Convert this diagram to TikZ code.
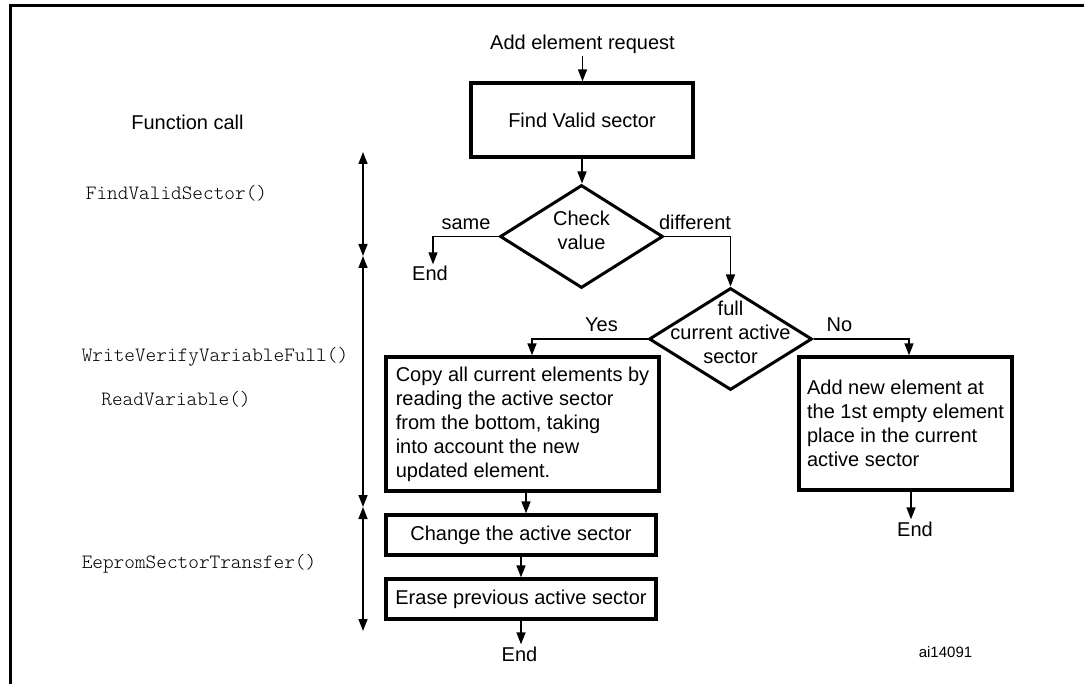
\documentclass[tikz,border=0pt]{standalone}
\usepackage{fontspec}
\setmainfont{Liberation Sans}
\newfontfamily\codefont{Latin Modern Mono Light}
\usetikzlibrary{shapes.geometric,arrows.meta}

\begin{document}
\begin{tikzpicture}[x=1pt,y=-1pt,
  txt/.style={font=\fontsize{20}{24}\selectfont, inner sep=2pt},
  lbl/.style={txt, anchor=base},
  fn/.style={font=\codefont\fontsize{20.3}{22}\selectfont, inner sep=0pt, anchor=base},
  procbox/.style={draw, line width=3.3pt, txt, inner sep=0pt},
  decision/.style={diamond, draw, line width=3pt, inner sep=0pt,
                   minimum width=163pt, minimum height=103pt},
  tip/.tip={Triangle[length=12pt,width=9pt]},
  conn/.style={line width=1.5pt, -tip},
  span/.style={line width=1.5pt, tip-tip},
  frame/.style={line width=2.6pt}
]
\useasboundingbox (0,0) rectangle (1084,684);

% figure frame
\draw[frame] (10.5,684) -- (10.5,5.8) -- (1084,5.8);

% function call column
\node[lbl] (fcall) at (187.5,130) {Function call};
\node[fn] (f1) at (176.5,200) {FindValidSector()};
\node[fn] (f2) at (215,362) {WriteVerifyVariableFull()};
\node[fn] (f3) at (176,405) {ReadVariable()};
\node[fn] (f4) at (199,568) {EepromSectorTransfer()};

\coordinate (t0) at (363,152);
\coordinate (t1) at (363,256);
\coordinate (t2) at (363,507);
\coordinate (t3) at (363,631);
\draw[span] (t0) -- (t1);
\draw[span] (t1) -- (t2);
\draw[span] (t2) -- (t3);

% main flow
\node[lbl] (req) at (582.5,50) {Add element request};
\node[procbox, minimum width=222pt, minimum height=74pt] (fvs) at (582,120) {Find Valid sector};

\node[decision] (d1) at (581.5,236.5) {};
\node[txt, align=center] (d1t) at (581.5,230) {Check\\value};
\node[lbl] (same) at (466,230) {same};
\node[lbl] (diff) at (695,230) {different};
\node[lbl] (endL) at (430,281) {End};

\node[decision, minimum height=102pt] (d2) at (730.5,339) {};
\node[txt, align=center] (d2t) at (730.5,332) {full\\current active\\sector};
\node[lbl] (yes) at (601.5,332) {Yes};
\node[lbl] (no) at (839.5,332) {No};

\node[procbox, align=left, minimum width=273pt, minimum height=134pt] (copy) at (522.5,424)
  {Copy all current elements by\\reading the active sector\\from the bottom, taking\\into account the new\\updated element.};
\node[procbox, minimum width=270pt, minimum height=40pt] (change) at (521,535) {Change the active sector};
\node[procbox, minimum width=270pt, minimum height=40pt] (erase) at (521,599) {Erase previous active sector};
\node[lbl] (endB) at (519.5,661) {End};

\node[procbox, align=left, minimum width=213pt, minimum height=133pt] (add) at (905.5,423.5)
  {Add new element at\\the 1st empty element\\place in the current\\active sector};
\node[lbl] (endR) at (915,536) {End};

\node[anchor=base, font=\fontsize{15}{18}\selectfont, inner sep=0pt] (ref) at (945.5,657) {ai14091};

% connectors
\draw[conn] (req.south) -- (req.south |- fvs.north);
\draw[conn] (fvs.south) -- (fvs.south |- d1.north);
\draw[conn] (d1.west) -| ([xshift=3pt]endL.north);
\draw[conn] (d1.east) -| (d2.north);
\draw[conn] (d2.west) -| ([xshift=9.5pt]copy.north);
\draw[conn] (d2.east) -| ([xshift=3.5pt]add.north);
\draw[conn] ([xshift=3.5pt]copy.south) -- ([xshift=3.5pt]copy.south |- change.north);
\draw[conn] (change.south) -- (change.south |- erase.north);
\draw[conn] (erase.south) -- (erase.south |- endB.north);
\draw[conn] ([xshift=-4pt]endR.north |- add.south) -- ([xshift=-4pt]endR.north);
\end{tikzpicture}
\end{document}
